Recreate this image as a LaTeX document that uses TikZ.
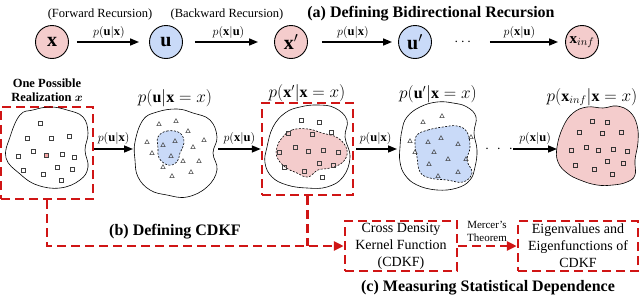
\documentclass[tikz,border=0pt]{standalone}
\usepackage{amsmath}
\usepackage{fontspec}
\setmainfont{Liberation Serif}
\usetikzlibrary{arrows.meta,calc}
\definecolor{pinkc}{HTML}{F4CCCC}
\definecolor{bluec}{HTML}{C9DAF8}
\definecolor{redd}{HTML}{D01515}
\begin{document}
\begin{tikzpicture}[x=1pt,y=-1pt,
 circ/.style={circle,draw=black,line width=0.9pt,minimum size=33pt,inner sep=0pt,font=\fontsize{20}{20}\selectfont},
 arr/.style={-{Triangle[length=9pt,width=7pt]},line width=1.5pt},
 rdash/.style={draw=redd,line width=2.5pt,dash pattern=on 9pt off 5pt},
 rarr/.style={rdash,-{Triangle[length=10pt,width=9pt,fill=redd]}},
 rbox/.style={rdash,rectangle,inner sep=0pt,align=center,font=\fontsize{14}{17}\selectfont},
 lab/.style={font=\fontsize{12.5}{14}\selectfont,inner sep=1pt},
 ttl/.style={font=\bfseries\fontsize{16}{18}\selectfont,inner sep=0pt},
 mttl/.style={font=\fontsize{16}{18}\selectfont,inner sep=0pt},
 blob/.style={draw=black,line width=0.6pt},
 iblob/.style={draw=black,line width=0.6pt,dash pattern=on 2pt off 1.5pt},
 sqs/.style={draw=black!75,line width=0.5pt},
 trs/.style={draw=black!75,line width=0.5pt}
]
\useasboundingbox (0,0) rectangle (640,300);

% ---------- (a) top row ----------
\node[lab] (fwd) at (100,14) {(Forward Recursion)};
\node[lab] (bwd) at (227,14) {(Backward Recursion)};
\node[ttl] (ta) at (431,14) {(a) Defining Bidirectional Recursion};

\node[circ,fill=pinkc] (cx) at (52,42) {$\mathbf{x}$};
\node[circ,fill=bluec] (cu) at (166,42) {$\mathbf{u}$};
\node[circ,fill=pinkc] (cxp) at (291,42) {$\mathbf{x}'$};
\node[circ,fill=bluec] (cup) at (415,42) {$\mathbf{u}'$};
\node[font=\fontsize{15}{15}\selectfont,inner sep=0pt] (tdots) at (464,42) {$\cdots$};
\node[circ,fill=pinkc,font=\fontsize{15}{15}\selectfont] (cxi) at (582,42) {$\mathbf{x}_{inf}$};

\draw[arr,shorten <=8pt,shorten >=10pt] (cx) -- node[lab,above=2pt]{$p(\mathbf{u}|\mathbf{x})$} (cu);
\draw[arr,shorten <=12pt,shorten >=16pt] (cu) -- node[lab,above=2pt]{$p(\mathbf{x}|\mathbf{u})$} (cxp);
\draw[arr,shorten <=14pt,shorten >=6pt] (cxp) -- node[lab,above=2pt]{$p(\mathbf{u}|\mathbf{x})$} (cup);
\draw[arr,shorten <=16pt,shorten >=7pt] (tdots) -- node[lab,above=2pt]{$p(\mathbf{x}|\mathbf{u})$} (cxi);

% ---------- middle row ----------
\node[font=\bfseries\fontsize{12.5}{13.5}\selectfont,align=center,inner sep=0pt] (real) at (47,90) {One Possible\\Realization $\boldsymbol{x}$};
\node[rdash,minimum width=92pt,minimum height=92pt,inner sep=0pt] (box1) at (47,153) {};
\node[rdash,minimum width=91pt,minimum height=92pt,inner sep=0pt] (boxp) at (307.5,149) {};

% blob 1
\draw[blob] plot[smooth cycle,tension=0.7] coordinates {(20,115) (33,110) (50,107) (67,110) (83,117) (88,133) (85,150) (88,167) (80,180) (60,188) (37,185) (20,174) (6,158) (10,137)};
\foreach \a/\b in {40/123,27/138,51/138,69/136,33/151,18/156,62/154,74/157,23/170,57/167,72/169,43/174,61/180}
  \draw[sqs] (\a-2,\b-2) rectangle ++(4,4);
\draw[sqs,fill=pinkc!80!red] (44,153) rectangle ++(4,4);

% blob 2
\draw[blob] plot[smooth cycle,tension=0.7] coordinates {(135,142) (143,120) (157,112) (177,109) (193,113) (210,120) (217,137) (213,153) (217,170) (207,187) (187,197) (167,195) (150,190) (138,177) (135,160)};
\draw[iblob,fill=bluec] plot[smooth cycle,tension=0.7] coordinates {(158,137) (167,131) (180,133) (184,143) (180,153) (177,162) (168,165) (159,158) (158,148)};
\foreach \a/\b in {159/124,176/121,188/131,147/142,175/141,163/145,193/147,204/140,152/153,171/156,183/161,199/161,163/167,191/172,172/176}
  \draw[trs] (\a,\b-2.3) -- (\a+2.2,\b+1.7) -- (\a-2.2,\b+1.7) -- cycle;

% blob 3
\draw[blob] plot[smooth cycle,tension=0.7] coordinates {(267,147) (273,127) (285,113) (300,107) (318,105) (335,108) (347,120) (345,137) (350,157) (343,177) (327,187) (307,188) (287,185) (272,177) (265,163)};
\draw[iblob,fill=pinkc] plot[smooth cycle,tension=0.7] coordinates {(282,138) (292,130) (308,129) (322,133) (338,138) (347,150) (343,162) (330,168) (318,170) (308,177) (297,173) (285,167) (277,157) (277,147)};
\foreach \a/\b in {301/120,319/122,331/132,288/133,312/134,295/147,308/151,323/150,338/152,279/152,319/163,333/165,284/167,304/171,322/177}
  \draw[sqs] (\a-2,\b-2) rectangle ++(4,4);

% blob 4
\draw[blob] plot[smooth cycle,tension=0.7] coordinates {(400,147) (402,130) (407,117) (420,107) (437,102) (453,103) (467,107) (476,117) (474,133) (477,150) (475,167) (470,180) (457,188) (437,190) (417,185) (405,175) (400,162)};
\draw[iblob,fill=bluec] plot[smooth cycle,tension=0.7] coordinates {(417,135) (428,130) (443,127) (457,126) (467,132) (470,147) (467,160) (472,173) (463,182) (447,180) (430,178) (420,172) (417,157) (415,145)};
\foreach \a/\b in {423/122,442/116,410/141,428/142,441/138,458/144,471/137,415/152,434/152,448/159,429/164,466/159,438/176,458/172}
  \draw[trs] (\a,\b-2.3) -- (\a+2.2,\b+1.7) -- (\a-2.2,\b+1.7) -- cycle;

% blob 5
\draw[blob,fill=pinkc] plot[smooth cycle,tension=0.7] coordinates {(557,147) (563,127) (573,113) (587,107) (603,108) (617,106) (630,112) (637,125) (638,142) (635,160) (635,175) (627,182) (613,185) (597,185) (580,180) (567,173) (558,162)};
\foreach \a/\b in {592/121,607/122,579/132,602/133,621/132,571/150,586/147,598/150,613/149,627/151,575/165,594/169,607/161,623/163,612/174}
  \draw[sqs,draw=black!80] (\a-2,\b-2) rectangle ++(4,4);

% titles of blobs
\node[mttl] (t2) at (175,98) {$p(\mathbf{u}|\mathbf{x}=x)$};
\node[mttl] (t3) at (307,93) {$p(\mathbf{x}'|\mathbf{x}=x)$};
\node[mttl] (t4) at (438,94) {$p(\mathbf{u}'|\mathbf{x}=x)$};
\node[mttl] (t5) at (592,97) {$p(\mathbf{x}_{inf}|\mathbf{x}=x)$};

% edge coordinates
\coordinate (b2w) at (133,149);
\coordinate (b2e) at (218,149);
\coordinate (b4w) at (397,149);
\coordinate (b5w) at (557,149);
\node[font=\fontsize{15}{15}\selectfont,inner sep=0pt] (mdots) at (499,149) {$\cdot\,\,\cdot\,\,\cdot$};

\draw[arr] (box1.east |- b2w) -- node[lab,above=3pt]{$p(\mathbf{u}|\mathbf{x})$} (b2w);
\draw[arr] (b2e) -- node[lab,above=3pt]{$p(\mathbf{x}|\mathbf{u})$} (boxp.west);
\draw[arr,shorten <=2pt] (boxp.east) -- node[lab,above=3pt]{$p(\mathbf{u}|\mathbf{x})$} (b4w);
\draw[arr] (mdots.east) -- node[lab,above=3pt]{$p(\mathbf{x}|\mathbf{u})$} (b5w);

% ---------- (b) and (c) ----------
\node[rbox,minimum width=112pt,minimum height=50pt] (cdkf) at (401,246) {Cross Density\\Kernel Function\\(CDKF)};
\node[rbox,minimum width=120pt,minimum height=50pt] (eig) at (578,246) {Eigenvalues and\\Eigenfunctions of\\CDKF};
\node[font=\fontsize{11}{13}\selectfont,align=center,inner sep=0pt] (merc) at (487,231) {Mercer's\\Theorem};

\draw[rarr] (box1.south) |- (cdkf.west);
\draw[rdash] (boxp.south) -- (boxp.south |- cdkf.west);
\draw[rarr] (cdkf.east) -- (eig.west);

\node[ttl] (tb) at (175,232) {(b) Defining CDKF};
\node[ttl] (tc) at (488,288) {(c) Measuring Statistical Dependence};
\end{tikzpicture}
\end{document}
